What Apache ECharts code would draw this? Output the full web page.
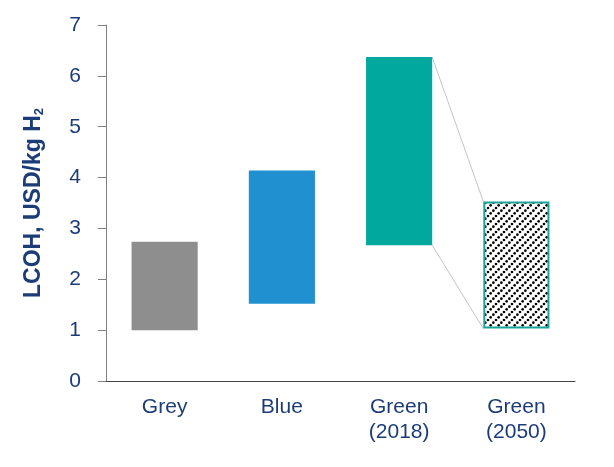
<!DOCTYPE html>
<html><head><meta charset="utf-8">
<script src="https://cdn.jsdelivr.net/npm/echarts@6/dist/echarts.min.js"></script>
<style>html,body{margin:0;padding:0;background:#fff}#c{width:614px;height:467px}</style>
</head><body><div id="c"></div>
<script>
const categories = ['Grey', 'Blue', 'Green\n(2018)', 'Green\n(2050)'];
const lowValues = [1.0, 1.52, 2.67, 1.03];
const highValues = [2.74, 4.14, 6.37, 3.53];
const yTicks = [0, 1, 2, 3, 4, 5, 6, 7];
const barColors = ['#8e8e8e', '#2190d0', '#00a89e', 'hatch'];

const navy = '#1c3c78';
const BW = 0.564;

// hatch pattern
const P = 8;
const pc = document.createElement('canvas');
pc.width = P; pc.height = P;
const g = pc.getContext('2d');
g.fillStyle = '#fff'; g.fillRect(0, 0, P, P);
g.fillStyle = '#000';
for (let k = -1; k <= 3; k++) {
  const t = k * P / 3;
  for (const off of [0, P, -P]) {
    g.beginPath(); g.arc(t + off, P - t, 1.3, 0, Math.PI * 2); g.fill();
  }
}

const barData = categories.map((c, i) => [i, lowValues[i], highValues[i]]);
const connData = [[2, highValues[2], 3, highValues[3]], [2, lowValues[2], 3, lowValues[3]]];

const chart = echarts.init(document.getElementById('c'), null, {renderer: 'canvas'});
chart.setOption({
  animation: false,
  grid: {left: 106, right: 39, top: 25, bottom: 86},
  xAxis: {
    type: 'category', data: categories,
    axisLine: {lineStyle: {color: '#444', width: 1}},
    axisTick: {show: false},
    axisLabel: {color: navy, fontSize: 21, fontFamily: 'Liberation Sans', margin: 14, lineHeight: 25, interval: 0}
  },
  yAxis: {
    type: 'value', min: 0, max: 7, interval: 1,
    splitLine: {show: false},
    axisLine: {show: true, lineStyle: {color: '#808080'}},
    axisTick: {show: true, length: 8, lineStyle: {color: '#808080'}},
    axisLabel: {color: navy, fontSize: 21, fontFamily: 'Liberation Sans', margin: 25,
      formatter: v => yTicks.includes(v) ? String(v) : ''},
    name: '{m|LCOH, USD/kg H}{s|2}',
    nameLocation: 'middle', nameGap: 60,
    nameTextStyle: {
      rich: {
        m: {color: navy, fontSize: 23, fontWeight: 'bold', fontFamily: 'Liberation Sans'},
        s: {color: navy, fontSize: 13, fontWeight: 'bold', fontFamily: 'Liberation Sans', padding: [12, 0, 0, 0]}
      }
    }
  },
  series: [
    {
      type: 'custom', data: connData, z: 1,
      renderItem(params, api) {
        const w = api.size([1, 0])[0] * BW;
        const a = api.coord([api.value(0), api.value(1)]);
        const b = api.coord([api.value(2), api.value(3)]);
        return {type: 'line', shape: {x1: a[0] + w / 2, y1: a[1], x2: b[0] - w / 2, y2: b[1]},
          style: {stroke: '#c4c4c4', lineWidth: 1}};
      }
    },
    {
      type: 'custom', data: barData, z: 2,
      renderItem(params, api) {
        const i = api.value(0);
        const w = api.size([1, 0])[0] * BW;
        const top = api.coord([i, api.value(2)]);
        const bot = api.coord([i, api.value(1)]);
        const col = barColors[i];
        if (col === 'hatch') {
          return {type: 'rect', shape: {x: top[0] - w / 2 + 1, y: top[1] + 1, width: w - 2, height: bot[1] - top[1] - 2},
            style: {fill: {image: pc, repeat: 'repeat'}, stroke: '#1aa39a', lineWidth: 2}};
        }
        return {type: 'rect', shape: {x: top[0] - w / 2, y: top[1], width: w, height: bot[1] - top[1]},
          style: {fill: col}};
      }
    }
  ]
});
</script></body></html>
